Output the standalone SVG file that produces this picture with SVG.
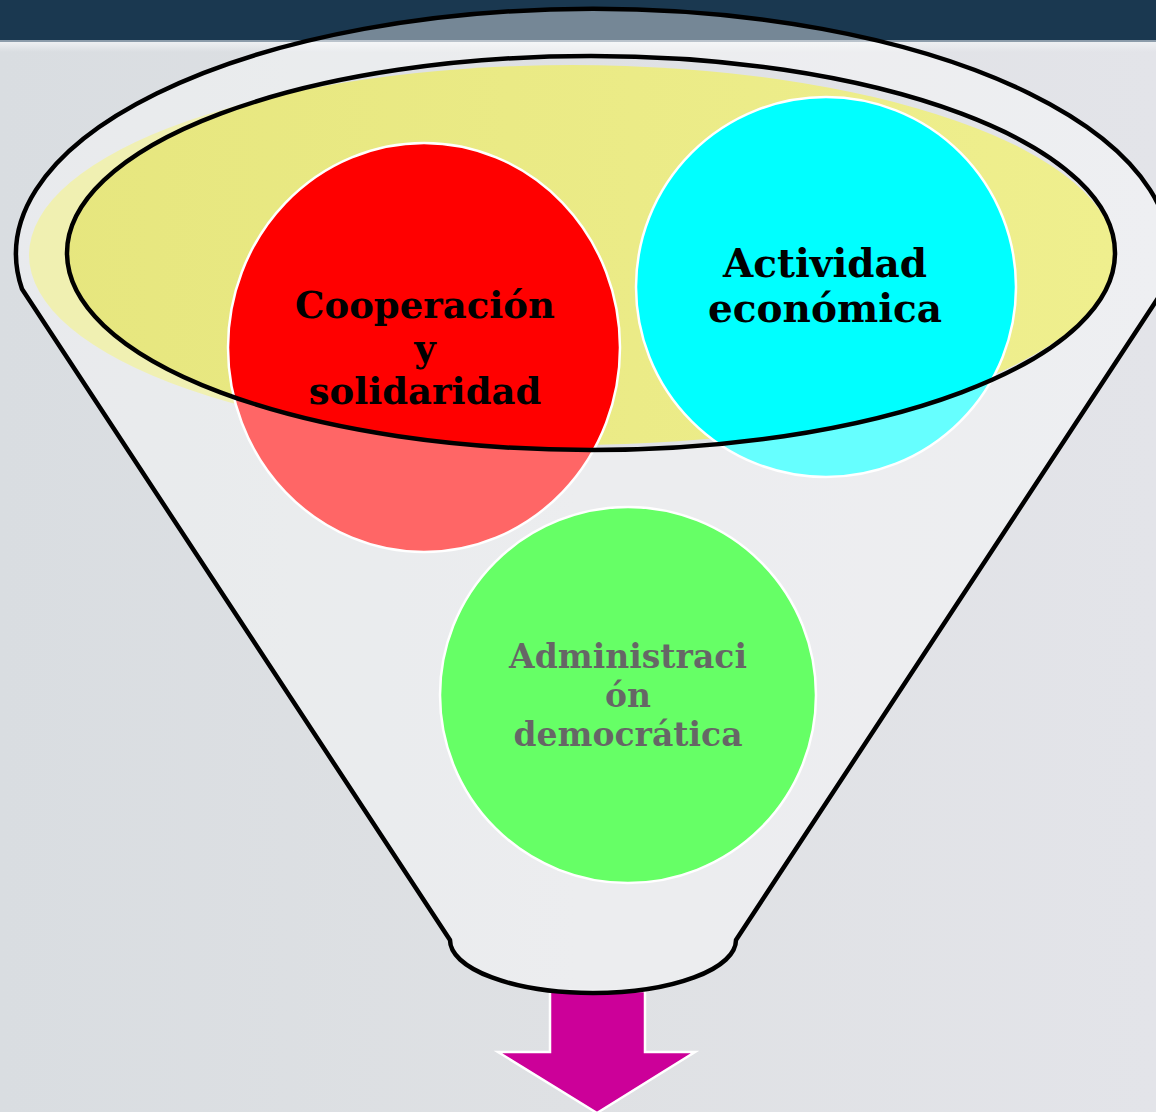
<svg xmlns="http://www.w3.org/2000/svg" width="1156" height="1112" viewBox="0 0 1156 1112">
<defs>
<linearGradient id="bg" x1="0" y1="0" x2="1" y2="0">
<stop offset="0" stop-color="#d9dde1"/>
<stop offset="0.5" stop-color="#dfe1e4"/>
<stop offset="1" stop-color="#e3e4e9"/>
</linearGradient>
<linearGradient id="yel" x1="0" y1="0" x2="1" y2="0">
<stop offset="0" stop-color="#e6e67e"/>
<stop offset="1" stop-color="#efef8e"/>
</linearGradient>
<linearGradient id="band" x1="0" y1="0" x2="0" y2="1">
<stop offset="0" stop-color="#eef0f2"/>
<stop offset="1" stop-color="#eef0f2" stop-opacity="0"/>
</linearGradient>
</defs>
<style>
.circ{stroke:#ffffff;stroke-width:2.5}
.lbl{font-family:"DejaVu Serif","Liberation Serif",serif;font-weight:bold;text-anchor:middle;fill:#000000}
.funnel{fill:#ffffff;fill-opacity:0.4;fill-rule:evenodd;stroke:#000000;stroke-width:4.5;stroke-linejoin:round}
</style>
<rect x="0" y="0" width="1156" height="1112" fill="url(#bg)"/>
<rect x="0" y="42" width="1156" height="10" fill="url(#band)"/>
<rect x="0" y="0" width="1156" height="40" fill="#1a3850"/>
<rect x="0" y="40" width="1156" height="2" fill="#8c9caa"/>
<g id="rim-fill">
<ellipse cx="572" cy="255" rx="543" ry="190" fill="url(#yel)"/>
</g>
<g id="node-cooperacion">
<ellipse class="circ" cx="424" cy="347.5" rx="196" ry="204.5" fill="#ff0000"/>
<text class="lbl" font-size="37" x="425" y="318">Cooperación</text>
<text class="lbl" font-size="37" x="425" y="361">y</text>
<text class="lbl" font-size="37" x="425" y="404">solidaridad</text>
</g>
<g id="node-actividad">
<circle class="circ" cx="826" cy="287" r="190" fill="#00ffff"/>
<text class="lbl" font-size="39" x="825" y="277">Actividad</text>
<text class="lbl" font-size="39" x="825" y="322">económica</text>
</g>
<g id="node-administracion">
<circle class="circ" cx="628" cy="695" r="188" fill="#00ff00"/>
<text class="lbl" font-size="33" x="628" y="668">Administraci</text>
<text class="lbl" font-size="33" x="628" y="707">ón</text>
<text class="lbl" font-size="33" x="628" y="746">democrática</text>
</g>
<g id="connectors">
<polygon id="output-arrow" points="550,991 645,991 645,1052 695,1052 597,1113 498,1052 550,1052" fill="#cc0099" stroke="#ffffff" stroke-width="2.5"/>
</g>
<g id="funnel">
<path class="funnel" d="M 22 289 L 450 940 A 143 53 0 0 0 736 940 L 1164 289 A 577 245 0 1 0 22 289 Z M 67 253 A 524 197 0 1 0 1115 253 A 524 197 0 1 0 67 253 Z"/>
</g>
</svg>
